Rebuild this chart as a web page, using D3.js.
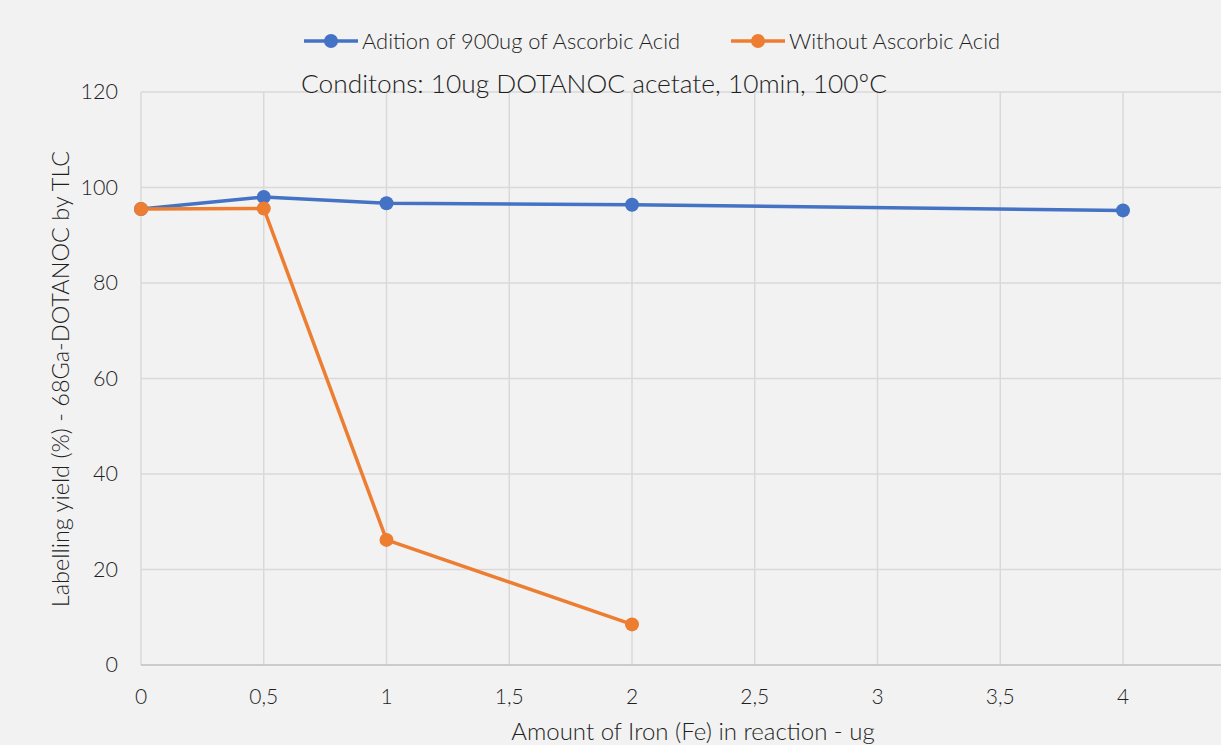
<!DOCTYPE html>
<html>
<head>
<meta charset="utf-8">
<style>
body { margin: 0; background: #f2f2f2; }
svg { display: block; }
text { font-family: Lato, "Open Sans", sans-serif; font-weight: 300; fill: #1f1f1f; }
</style>
<script src="https://cdn.jsdelivr.net/npm/d3@7"></script>
</head>
<body>
<script>
// data
var ironAmounts = [0, 0.5, 1, 2, 4];
var withAscorbic = [95.5, 98.0, 96.7, 96.4, 95.2];
var ironAmountsNoAA = [0, 0.5, 1, 2];
var withoutAscorbic = [95.5, 95.6, 26.2, 8.5];
var xTicks = [0, 0.5, 1, 1.5, 2, 2.5, 3, 3.5, 4, 4.5];
var yTicks = [0, 20, 40, 60, 80, 100, 120];
var seriesNames = ["Adition of 900ug of Ascorbic Acid", "Without Ascorbic Acid"];
var colors = ["#4472c4", "#ed7d31"];

var width = 1221, height = 745;

var svg = d3.select("body").append("svg")
  .attr("width", width)
  .attr("height", height);

svg.append("rect").attr("width", width).attr("height", height).attr("fill", "#f2f2f2");

var x = d3.scaleLinear().domain([0, 4.5]).range([141, 1245.75]);
var y = d3.scaleLinear().domain([0, 120]).range([665, 92]);

var fmt = function(d) { return String(d).replace(".", ","); };

// grid
svg.append("g").selectAll("line.v")
  .data(xTicks)
  .enter().append("line")
  .attr("x1", x).attr("x2", x)
  .attr("y1", y(0)).attr("y2", y(120))
  .attr("stroke", "#d9d9d9").attr("stroke-width", 1.5);

svg.append("g").selectAll("line.h")
  .data(yTicks.slice(1))
  .enter().append("line")
  .attr("x1", x(0)).attr("x2", x(4.5))
  .attr("y1", y).attr("y2", y)
  .attr("stroke", "#d9d9d9").attr("stroke-width", 1.5);

// bottom axis line
svg.append("line")
  .attr("x1", x(0)).attr("x2", x(4.5))
  .attr("y1", y(0)).attr("y2", y(0))
  .attr("stroke", "#bfbfbf").attr("stroke-width", 1.5);

// tick labels
svg.append("g").selectAll("text")
  .data(xTicks.slice(0, 9))
  .enter().append("text")
  .attr("x", x).attr("y", y(0) + 39)
  .attr("text-anchor", "middle")
  .style("font-size", "21px")
  .text(fmt);

svg.append("g").selectAll("text")
  .data(yTicks)
  .enter().append("text")
  .attr("x", 118).attr("y", function(d) { return y(d) + 7; })
  .attr("text-anchor", "end")
  .style("font-size", "21.5px")
  .text(fmt);

// axis titles
svg.append("text")
  .attr("x", 693).attr("y", 740)
  .attr("text-anchor", "middle")
  .style("font-size", "24px")
  .text("Amount of Iron (Fe) in reaction - ug");

svg.append("text")
  .attr("transform", "translate(69,379) rotate(-90)")
  .attr("text-anchor", "middle")
  .style("font-size", "23.5px")
  .text("Labelling yield (%) - 68Ga-DOTANOC by TLC");

// subtitle inside the plot
svg.append("text")
  .attr("x", 594).attr("y", 93)
  .attr("text-anchor", "middle")
  .style("font-size", "26.3px")
  .text("Conditons: 10ug DOTANOC acetate, 10min, 100ºC");

// series
var series = [
  { xs: ironAmounts, ys: withAscorbic },
  { xs: ironAmountsNoAA, ys: withoutAscorbic }
];

var line = d3.line()
  .x(function(d) { return x(d[0]); })
  .y(function(d) { return y(d[1]); });

series.forEach(function(s, i) {
  var pts = d3.zip(s.xs, s.ys);
  svg.append("path")
    .datum(pts)
    .attr("d", line)
    .attr("fill", "none")
    .attr("stroke", colors[i])
    .attr("stroke-width", 3.5)
    .attr("stroke-linejoin", "round");
  svg.append("g").selectAll("circle")
    .data(pts)
    .enter().append("circle")
    .attr("cx", function(d) { return x(d[0]); })
    .attr("cy", function(d) { return y(d[1]); })
    .attr("r", 7)
    .attr("fill", colors[i]);
});

// legend
var legendX = [304, 731];
var leg = svg.append("g").selectAll("g")
  .data(seriesNames)
  .enter().append("g")
  .attr("transform", function(d, i) { return "translate(" + legendX[i] + ",41)"; });

leg.append("line")
  .attr("x1", 0).attr("x2", 54)
  .attr("stroke", function(d, i) { return colors[i]; })
  .attr("stroke-width", 3.5);
leg.append("circle")
  .attr("cx", 27).attr("r", 7)
  .attr("fill", function(d, i) { return colors[i]; });
leg.append("text")
  .attr("x", 58).attr("y", 7.5)
  .style("font-size", "21.9px")
  .text(function(d) { return d; });
</script>
</body>
</html>
